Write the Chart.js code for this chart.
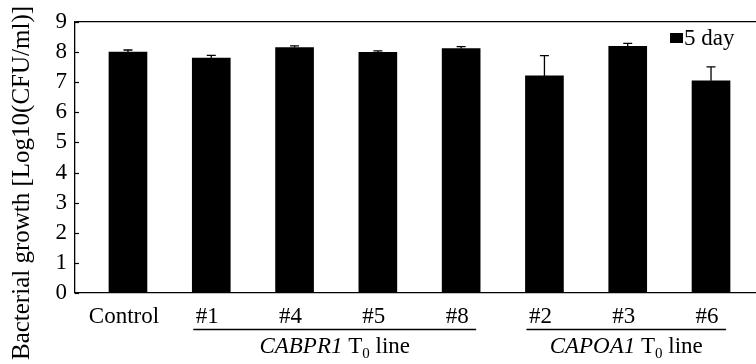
<!DOCTYPE html>
<html>
<head>
<meta charset="utf-8">
<script src="https://cdn.jsdelivr.net/npm/chart.js@4.4.1/dist/chart.umd.min.js"></script>
<style>
  html, body { margin: 0; padding: 0; background: #fff; }
  #wrap { width: 756px; height: 364px; position: relative; }
</style>
</head>
<body>
<div id="wrap"><canvas id="c"></canvas></div>
<script>
// ---- data ----
const categories = ['Control', '#1', '#4', '#5', '#8', '#2', '#3', '#6'];
const growth5day = [8.00, 7.80, 8.15, 7.99, 8.12, 7.21, 8.19, 7.05];
const errorUp = [0.07, 0.09, 0.06, 0.05, 0.06, 0.67, 0.10, 0.46];
const yTicks = [0, 1, 2, 3, 4, 5, 6, 7, 8, 9];
const seriesLabel = '5 day';
const yTitle = 'Bacterial growth [Log10(CFU/ml)]';
const groupGenes = ['CABPR1', 'CAPOA1'];
const groupFirst = [1, 5];
const groupLast = [4, 7];

const SERIF = "'Liberation Serif', 'Times New Roman', serif";
Chart.defaults.font.family = SERIF;
Chart.defaults.color = '#000';

const errorBarPlugin = {
  id: 'errorBars',
  afterDatasetsDraw(chart) {
    const ctx = chart.ctx;
    const meta = chart.getDatasetMeta(0);
    const ys = chart.scales.y;
    ctx.save();
    ctx.strokeStyle = '#000';
    ctx.lineWidth = 1.3;
    meta.data.forEach((bar, i) => {
      const top = ys.getPixelForValue(growth5day[i] + errorUp[i]);
      ctx.beginPath();
      ctx.moveTo(bar.x, bar.y);
      ctx.lineTo(bar.x, top);
      ctx.moveTo(bar.x - 4.5, top);
      ctx.lineTo(bar.x + 4.5, top);
      ctx.stroke();
    });
    ctx.restore();
  }
};

const decorPlugin = {
  id: 'decor',
  afterDraw(chart) {
    const ctx = chart.ctx;
    const ys = chart.scales.y;
    const xs = chart.scales.x;
    const area = chart.chartArea;
    ctx.save();
    // inward y ticks
    ctx.strokeStyle = '#000';
    ctx.lineWidth = 1.2;
    yTicks.forEach(v => {
      const y = Math.round(ys.getPixelForValue(v)) + 0.5;
      ctx.beginPath();
      ctx.moveTo(area.left, y);
      ctx.lineTo(area.left + 4, y);
      ctx.stroke();
    });
    // y title
    ctx.fillStyle = '#000';
    ctx.font = '25px ' + SERIF;
    ctx.textAlign = 'center';
    ctx.textBaseline = 'middle';
    ctx.translate(22, 183);
    ctx.rotate(-Math.PI / 2);
    ctx.fillText(yTitle, 0, 0);
    ctx.setTransform(1, 0, 0, 1, 0, 0);
    ctx.restore();

    // group lines & labels
    ctx.save();
    ctx.fillStyle = '#000';
    ctx.strokeStyle = '#000';
    ctx.lineWidth = 1.4;
    groupGenes.forEach((g, k) => {
      const x0 = xs.getPixelForValue(groupFirst[k]) - 18;
      const x1 = xs.getPixelForValue(groupLast[k]) + 15;
      const ly = 329.5;
      ctx.beginPath();
      ctx.moveTo(x0, ly);
      ctx.lineTo(x1, ly);
      ctx.stroke();
      const itFont = 'italic 23px ' + SERIF;
      const nFont = '23px ' + SERIF;
      const sFont = '15px ' + SERIF;
      ctx.font = itFont; const w1 = ctx.measureText(g).width;
      ctx.font = nFont; const w2 = ctx.measureText(' T').width;
      ctx.font = sFont; const w3 = ctx.measureText('0').width;
      ctx.font = nFont; const w4 = ctx.measureText(' line').width;
      let x = (x0 + x1) / 2 - (w1 + w2 + w3 + w4) / 2;
      const base = 353;
      ctx.textAlign = 'left';
      ctx.textBaseline = 'alphabetic';
      ctx.font = itFont; ctx.fillText(g, x, base); x += w1;
      ctx.font = nFont; ctx.fillText(' T', x, base); x += w2;
      ctx.font = sFont; ctx.fillText('0', x, base + 5); x += w3;
      ctx.font = nFont; ctx.fillText(' line', x, base);
    });
    // legend
    const lx = area.right - 86;
    const ly = area.top + 11;
    ctx.fillRect(lx, ly, 13, 10);
    ctx.font = '23px ' + SERIF;
    ctx.textAlign = 'left';
    ctx.textBaseline = 'alphabetic';
    ctx.fillText(chart.data.datasets[0].label, lx + 14, ly + 12);
    ctx.restore();
  }
};

new Chart(document.getElementById('c'), {
  type: 'bar',
  data: {
    datasets: [{
      label: seriesLabel,
      data: growth5day.map((v, i) => ({ x: i, y: v })),
      backgroundColor: '#000',
      borderWidth: 0,
      barThickness: 38
    }]
  },
  options: {
    responsive: true,
    maintainAspectRatio: false,
    animation: false,
    layout: { padding: { top: 22, left: 0, right: 0, bottom: 0 } },
    plugins: { legend: { display: false }, tooltip: { enabled: false } },
    scales: {
      x: {
        type: 'linear',
        offset: false,
        min: -0.636,
        max: 7.54,
        afterBuildTicks(scale) { scale.ticks = categories.map((c, i) => ({ value: i })); },
        afterFit(scale) { scale.height = 71; },
        ticks: {
          autoSkip: false, maxRotation: 0, padding: 10,
          labelOffset: -4,
          color: '#000',
          font: { family: SERIF, size: 23 },
          callback: (v) => categories[v]
        },
        grid: { display: false, drawTicks: false },
        border: { display: true, color: '#000', width: 1.3 }
      },
      y: {
        min: 0,
        max: 9,
        afterBuildTicks(scale) { scale.ticks = yTicks.map(v => ({ value: v })); },
        afterFit(scale) { scale.width = 75; },
        ticks: {
          autoSkip: false,
          padding: 8,
          color: '#000',
          font: { family: SERIF, size: 23 }
        },
        grid: {
          drawTicks: false,
          color: (c) => (c.tick && c.tick.value === 9) ? '#000' : 'rgba(0,0,0,0)',
          lineWidth: 1.2
        },
        border: { display: true, color: '#000', width: 1.3 }
      }
    }
  },
  plugins: [errorBarPlugin, decorPlugin]
});
</script>
</body>
</html>
